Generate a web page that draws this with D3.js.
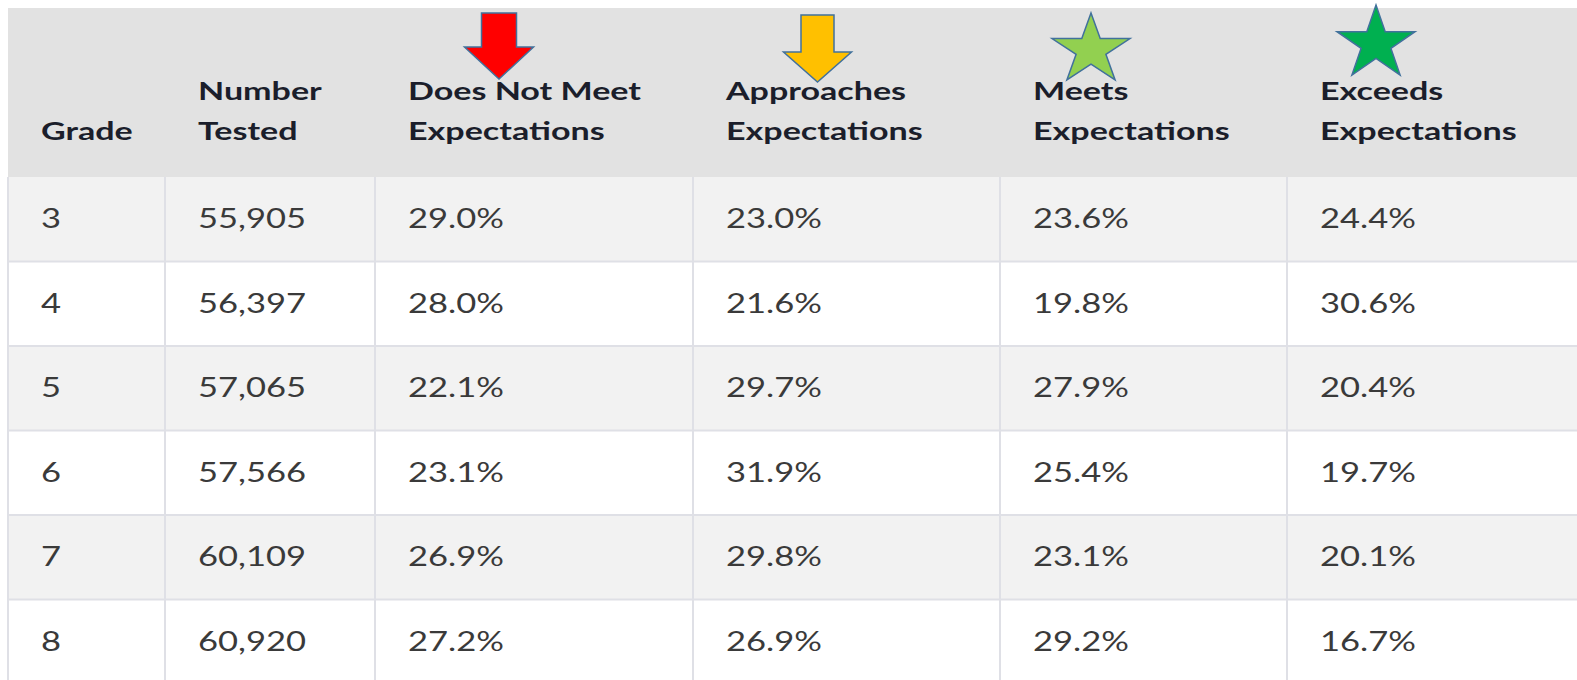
<!DOCTYPE html>
<html lang="en">
<head>
<meta charset="utf-8">
<title>Grade results</title>
<script src="https://cdn.jsdelivr.net/npm/d3@7"></script>
<style>
  html, body { margin: 0; padding: 0; background: #fff; overflow: hidden; }
  svg text { font-family: Lato, "Open Sans", sans-serif; }
</style>
</head>
<body>
<script>
// table data
var grades = ["3", "4", "5", "6", "7", "8"];
var numberTested = [55905, 56397, 57065, 57566, 60109, 60920];
var doesNotMeet = [29.0, 28.0, 22.1, 23.1, 26.9, 27.2];
var approaches = [23.0, 21.6, 29.7, 31.9, 29.8, 26.9];
var meets = [23.6, 19.8, 27.9, 25.4, 23.1, 29.2];
var exceeds = [24.4, 30.6, 20.4, 19.7, 20.1, 16.7];
var headers = [["Grade"], ["Number", "Tested"], ["Does Not Meet", "Expectations"],
  ["Approaches", "Expectations"], ["Meets", "Expectations"], ["Exceeds", "Expectations"]];

var W = 1577, H = 680;
var colEdges = [8, 165, 375, 693, 1000, 1287, W];
var headTop = 8, headBottom = 177, rowH = 84.5;
var pad = 33;
var headSx = 1.39, bodySx = 1.28; // the screenshot is stretched sideways

var svg = d3.select("body").append("svg").attr("width", W).attr("height", H);

var x = d3.scaleOrdinal().domain(d3.range(6)).range(colEdges.slice(0, 6));
var y = d3.scaleBand().domain(grades).range([headBottom, headBottom + rowH * grades.length]);

var fmtN = d3.format(",");
var fmtP = function(v) { return d3.format(".1f")(v) + "%"; };
var rows = grades.map(function(g, i) {
  return [g, fmtN(numberTested[i]), fmtP(doesNotMeet[i]), fmtP(approaches[i]), fmtP(meets[i]), fmtP(exceeds[i])];
});

// header background
svg.append("rect").attr("x", 8).attr("y", headTop).attr("width", W - 8).attr("height", headBottom - headTop)
  .attr("fill", "#e2e2e2");

// row backgrounds
svg.selectAll("rect.row").data(grades).enter().append("rect")
  .attr("class", "row")
  .attr("x", 8).attr("y", function(d) { return y(d); })
  .attr("width", W - 8).attr("height", y.bandwidth())
  .attr("fill", function(d, i) { return i % 2 === 0 ? "#f2f2f2" : "#ffffff"; });

// grid lines
svg.selectAll("line.h").data(grades).enter().append("line")
  .attr("x1", 8).attr("x2", W)
  .attr("y1", function(d) { return y(d) + y.bandwidth(); }).attr("y2", function(d) { return y(d) + y.bandwidth(); })
  .attr("stroke", "#dfe0e6").attr("stroke-width", 2);
svg.selectAll("line.v").data(colEdges.slice(0, 6)).enter().append("line")
  .attr("x1", function(d) { return d; }).attr("x2", function(d) { return d; })
  .attr("y1", headBottom).attr("y2", H)
  .attr("stroke", "#dfe0e6").attr("stroke-width", 2);

// header text
headers.forEach(function(lines, c) {
  var base = lines.length === 1 ? 140 : 100;
  lines.forEach(function(t, k) {
    svg.append("text")
      .attr("transform", "translate(" + (x(c) + pad) + "," + (base + k * 40) + ") scale(" + headSx + ",1)")
      .attr("font-size", 24.5).attr("font-weight", "bold").attr("fill", "#1b1e2b")
      .text(t);
  });
});

// body text
rows.forEach(function(r, i) {
  svg.selectAll(null).data(r).enter().append("text")
    .attr("transform", function(d, c) {
      return "translate(" + (x(c) + pad) + "," + (y(grades[i]) + 51) + ") scale(" + bodySx + ",1)";
    })
    .attr("font-size", 27).attr("fill", "#3a3a3a")
    .text(function(d) { return d; });
});

// header icons
function arrow(cx, top, shaftW, headTopY, headW, tip) {
  return "M" + (cx - shaftW / 2) + "," + top + "H" + (cx + shaftW / 2) + "V" + headTopY +
    "H" + (cx + headW / 2) + "L" + cx + "," + tip + "L" + (cx - headW / 2) + "," + headTopY +
    "H" + (cx - shaftW / 2) + "Z";
}
function star(cx, top, rx, ry) {
  var cy = top + ry, pts = [];
  for (var k = 0; k < 10; k++) {
    var a = -Math.PI / 2 + k * Math.PI / 5, r = k % 2 ? 0.382 : 1;
    pts.push([cx + rx * r * Math.cos(a), cy + ry * r * Math.sin(a)]);
  }
  return d3.line()(pts) + "Z";
}
svg.append("path").attr("d", arrow(x(2) + 124, 13, 35, 47, 69, 79))
  .attr("fill", "#ff0000").attr("stroke", "#41719c").attr("stroke-width", 1.5);
svg.append("path").attr("d", arrow(x(3) + 124.5, 15, 33, 52, 68, 82))
  .attr("fill", "#ffc000").attr("stroke", "#41719c").attr("stroke-width", 1.5);
svg.append("path").attr("d", star(x(4) + 91, 13, 41, 37))
  .attr("fill", "#92d050").attr("stroke", "#41719c").attr("stroke-width", 1.5);
svg.append("path").attr("d", star(x(5) + 89, 5, 41, 38.7))
  .attr("fill", "#00b050").attr("stroke", "#41719c").attr("stroke-width", 1.5);
</script>
</body>
</html>
